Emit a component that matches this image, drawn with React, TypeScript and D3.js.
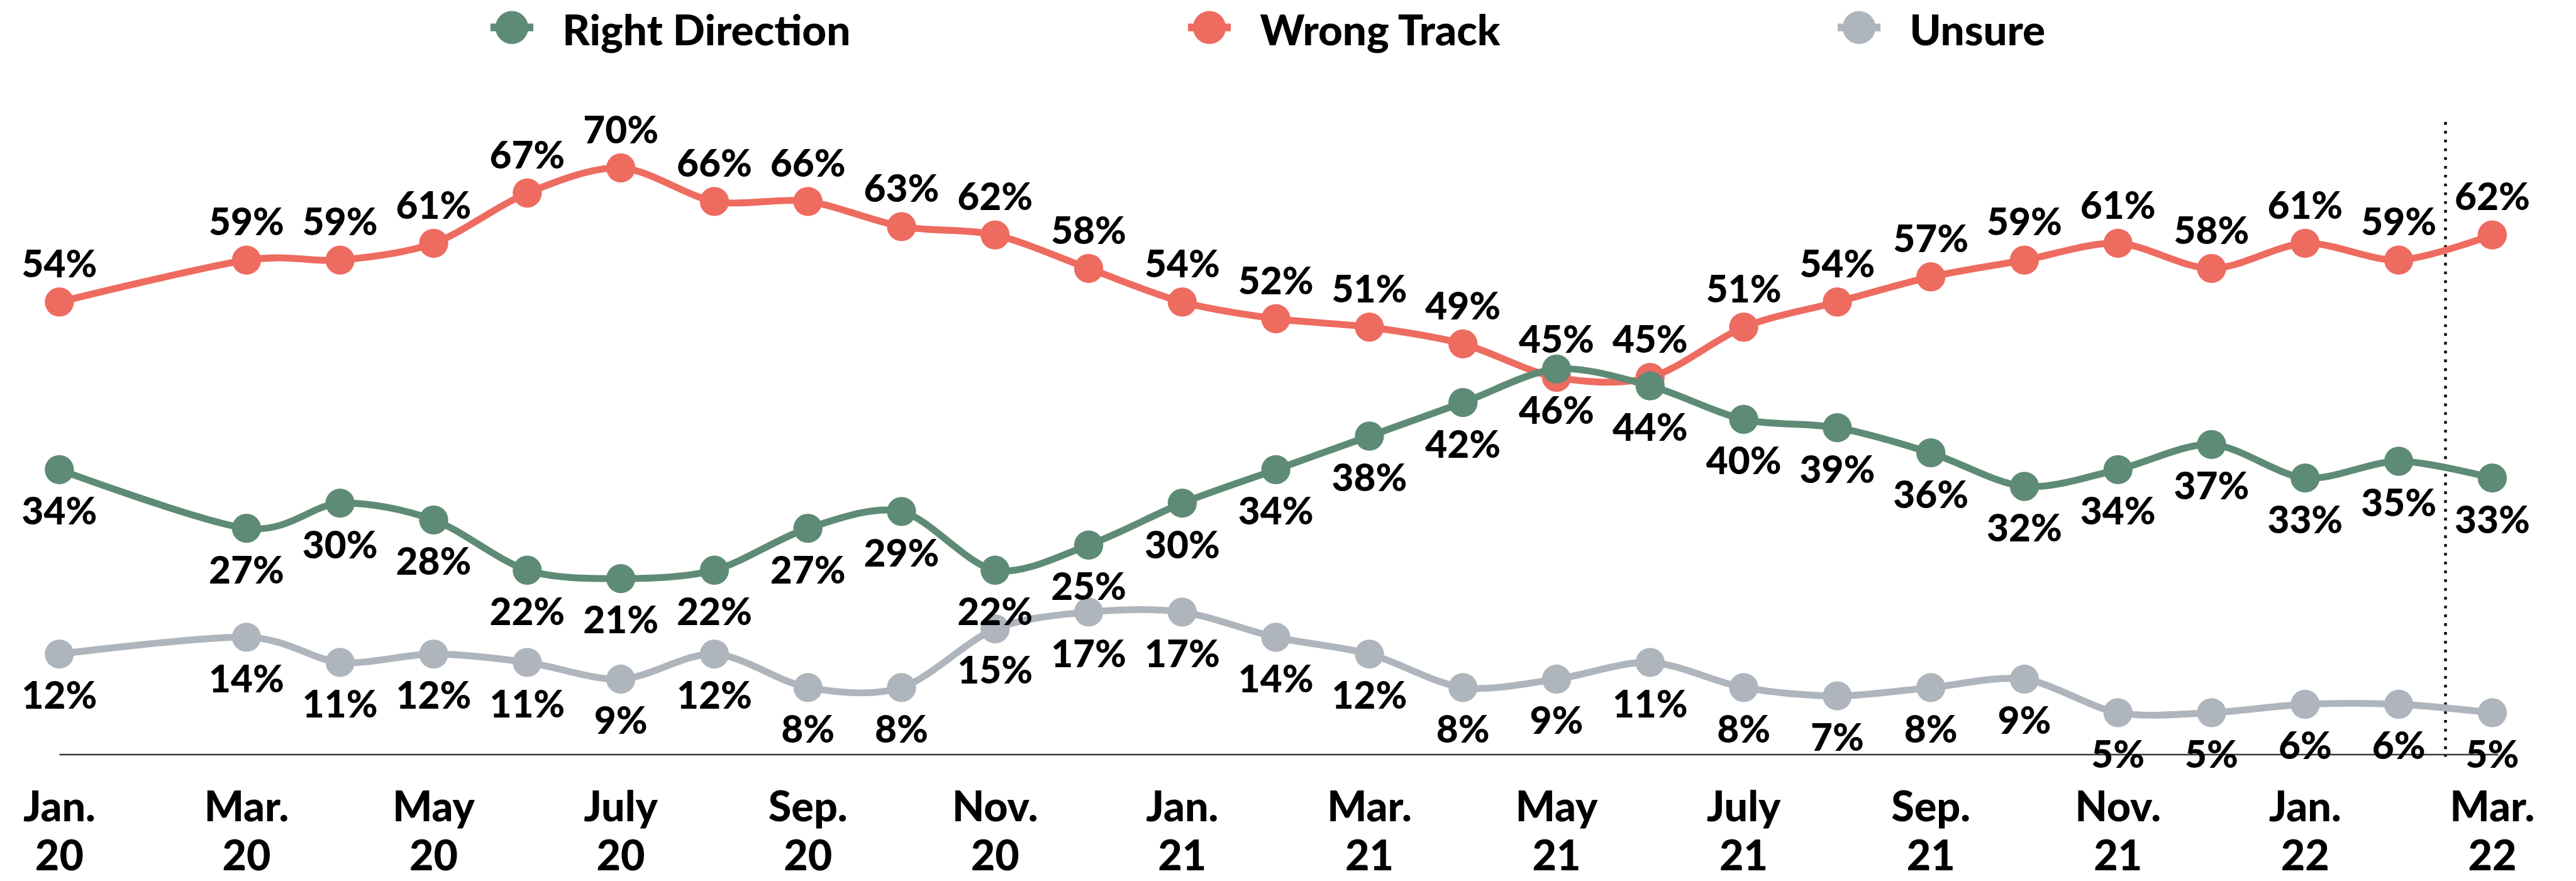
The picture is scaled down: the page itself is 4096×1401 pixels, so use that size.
import React from 'react';
import * as d3 from 'd3';

// survey months (Feb. 2020 was not polled)
const surveyMonths = [
  '2020-01', '2020-03', '2020-04', '2020-05', '2020-06', '2020-07', '2020-08',
  '2020-09', '2020-10', '2020-11', '2020-12',
  '2021-01', '2021-02', '2021-03', '2021-04', '2021-05', '2021-06', '2021-07',
  '2021-08', '2021-09', '2021-10', '2021-11', '2021-12',
  '2022-01', '2022-02', '2022-03',
];

const rightDirection = [34, 27, 30, 28, 22, 21, 22, 27, 29, 22, 25, 30, 34, 38, 42, 46, 44, 40, 39, 36, 32, 34, 37, 33, 35, 33];
const wrongTrack = [54, 59, 59, 61, 67, 70, 66, 66, 63, 62, 58, 54, 52, 51, 49, 45, 45, 51, 54, 57, 59, 61, 58, 61, 59, 62];
const unsure = [12, 14, 11, 12, 11, 9, 12, 8, 8, 15, 17, 17, 14, 12, 8, 9, 11, 8, 7, 8, 9, 5, 5, 6, 6, 5];

const tickMonths = [
  '2020-01', '2020-03', '2020-05', '2020-07', '2020-09', '2020-11',
  '2021-01', '2021-03', '2021-05', '2021-07', '2021-09', '2021-11',
  '2022-01', '2022-03',
];
const tickMonthLabels = ['Jan.', 'Mar.', 'May', 'July', 'Sep.', 'Nov.', 'Jan.', 'Mar.', 'May', 'July', 'Sep.', 'Nov.', 'Jan.', 'Mar.'];
const tickYearLabels = ['20', '20', '20', '20', '20', '20', '21', '21', '21', '21', '21', '21', '22', '22'];

const seriesNames = ['Right Direction', 'Wrong Track', 'Unsure'];
const colors: Record<string, string> = {
  'Right Direction': '#5e8b75',
  'Wrong Track': '#ee6b60',
  'Unsure': '#afb5bd',
};

// months since Jan 2020
const monthIndex = (s: string) => {
  const [y, m] = s.split('-').map(Number);
  return (y - 2020) * 12 + (m - 1);
};

const FONT = 'Lato, "Open Sans", sans-serif';

export default function App() {
  // drawn in reference units, the viewBox scales it to the window
  const W = 4686;
  const H = 1603;

  const x = d3.scaleLinear().domain([0, 26]).range([107.7, 4534]);
  const y = d3.scaleLinear().domain([0, 80]).range([1373, 1373 - 80 * 15.25]);

  const line = d3.line<[number, number]>()
    .x(d => x(d[0]))
    .y(d => y(d[1]))
    .curve(d3.curveCardinal.tension(0.1));

  const series = [
    {name: 'Unsure', values: unsure, above: false},
    {name: 'Wrong Track', values: wrongTrack, above: true},
    {name: 'Right Direction', values: rightDirection, above: false},
  ];

  const legendX = [931, 2200, 3382];
  const cutoff = (monthIndex('2022-02') + monthIndex('2022-03')) / 2;

  return (
    <svg
      width={4096}
      height={1401}
      viewBox={`0 0 ${W} ${H}`}
      style={{position: 'fixed', left: 0, top: 0, display: 'block', background: '#fff'}}
    >
      {/* legend */}
      {seriesNames.map((name, i) => (
        <g key={name} transform={`translate(${legendX[i]},50)`}>
          <line x1={-39} x2={39} y1={0} y2={0} stroke={colors[name]} strokeWidth={14} />
          <circle r={30} fill={colors[name]} />
          <text x={92} y={32} fontFamily={FONT} fontWeight={900} fontSize={77} fill="#000">{name}</text>
        </g>
      ))}

      {/* baseline */}
      <line x1={x(0)} x2={4545} y1={y(0)} y2={y(0)} stroke="#3a3a3a" strokeWidth={3} />

      {/* last survey divider */}
      <line
        x1={x(cutoff)} x2={x(cutoff)} y1={222} y2={1377}
        stroke="#000" strokeWidth={5} strokeDasharray="5 11"
      />

      {/* lines and markers */}
      {series.map(s => {
        const pts: [number, number][] = s.values.map((v, i) => [monthIndex(surveyMonths[i]), v]);
        return (
          <g key={s.name}>
            <path d={line(pts) || ''} fill="none" stroke={colors[s.name]} strokeWidth={12.5} />
            {pts.map((p, i) => (
              <circle key={i} cx={x(p[0])} cy={y(p[1])} r={26.5} fill={colors[s.name]} />
            ))}
          </g>
        );
      })}

      {/* data labels */}
      {series.map(s => (
        <g key={s.name + '-lbl'}>
          {s.values.map((v, i) => {
            const cx = x(monthIndex(surveyMonths[i]));
            const cy = y(v);
            return (
              <text
                key={i}
                x={cx}
                y={s.above ? cy - 45 : cy + 100}
                textAnchor="middle"
                fontFamily={FONT}
                fontWeight={900}
                fontSize={69}
                fill="#000"
              >
                {v}%
              </text>
            );
          })}
        </g>
      ))}

      {/* x axis labels */}
      {tickMonths.map((m, i) => (
        <text
          key={m}
          x={x(monthIndex(m))}
          textAnchor="middle"
          fontFamily={FONT}
          fontWeight={900}
          fontSize={76}
          fill="#000"
        >
          <tspan x={x(monthIndex(m))} y={1494}>{tickMonthLabels[i]}</tspan>
          <tspan x={x(monthIndex(m))} y={1584}>{tickYearLabels[i]}</tspan>
        </text>
      ))}
    </svg>
  );
}
